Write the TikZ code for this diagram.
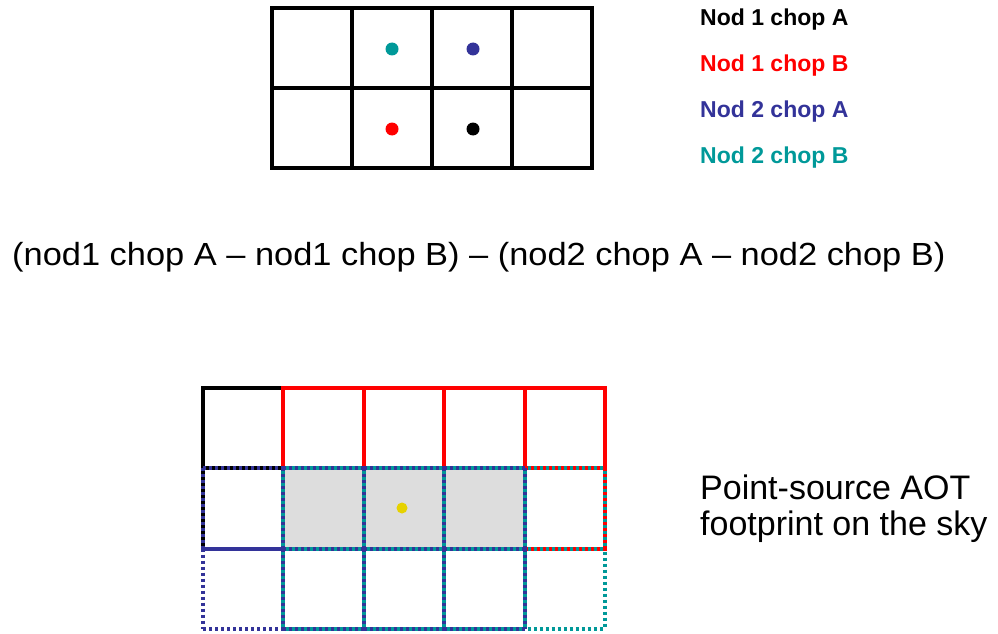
\documentclass[tikz,border=0pt]{standalone}
\usepackage{fontspec}
\setmainfont{Liberation Sans}
\definecolor{navy}{RGB}{51,51,153}
\definecolor{tealc}{RGB}{0,153,153}
\definecolor{greyf}{RGB}{221,221,221}
\definecolor{yell}{RGB}{230,210,0}
\newcommand\footprintgrid[3]{%
  \foreach \c in {0,...,3} \foreach \r in {0,...,2}
    \draw[#3] ({203+(\c+#1)*80.4},{388+(\r+#2)*80.3}) -- ++(80.4,0);
  \foreach \c in {0,...,4} \foreach \r in {0,1}
    \draw[#3] ({203+(\c+#1)*80.4},{388+(\r+#2)*80.3}) -- ++(0,80.3);
}
\begin{document}
\begin{tikzpicture}[x=1pt,y=-1pt,
  gridline/.style={draw=black,line width=4pt,line cap=rect},
  solidblack/.style={draw=black,line width=4pt,line cap=rect},
  solidred/.style={draw=red,line width=4pt,line cap=rect},
  solidnavy/.style={draw=navy,line width=4pt,line cap=rect},
  dotblue/.style={draw=navy,line width=4pt,dash pattern=on 3pt off 3pt},
  dotteal/.style={draw=tealc,line width=4pt,dash pattern=on 3pt off 3pt,dash phase=3pt},
  dot/.style={circle,inner sep=0pt,minimum size=13pt,draw=none},
  legend/.style={anchor=base west,inner sep=0pt,font=\fontsize{23}{27}\selectfont\bfseries},
  bigtext/.style={anchor=base west,inner sep=0pt,font=\fontsize{34}{40}\selectfont}]
\useasboundingbox (0,0) rectangle (998,634);
% top grid
\draw[gridline] (272,8) rectangle (592,168);
\foreach \x in {352,432,512} \draw[gridline] (\x,8) -- (\x,168);
\draw[gridline] (272,88) -- (592,88);
\node[dot,fill=tealc] (d1) at (392,49) {};
\node[dot,fill=navy] (d2) at (473,49) {};
\node[dot,fill=red] (d3) at (392,129) {};
\node[dot,fill=black] (d4) at (473,129) {};
% legend
\node[legend,text=black] (l1) at (700,26) {Nod 1 chop A};
\node[legend,text=red] (l2) at (700,71) {Nod 1 chop B};
\node[legend,text=navy] (l3) at (700,117) {Nod 2 chop A};
\node[legend,text=tealc] (l4) at (700,163) {Nod 2 chop B};
% formula
\node[anchor=base west,inner sep=0pt,font=\fontsize{32}{38}\selectfont] (f) at (12,265)
  {\scalebox{1.075}[1]{(nod1 chop A – nod1 chop B) – (nod2 chop A – nod2 chop B)}};
% bottom footprint
\fill[greyf] ({203+80.4},{388+80.3}) rectangle ({203+4*80.4},{388+2*80.3});
\footprintgrid{0}{0}{solidblack}
\footprintgrid{1}{0}{solidred}
\draw[solidnavy] (203,{388+2*80.3}) -- ++(80.4,0);
\footprintgrid{0}{1}{dotblue}
\footprintgrid{1}{1}{dotteal}
\node[dot,fill=yell,minimum size=11pt] (src) at (402,508) {};
\node[bigtext] (t1) at (700,499) {Point-source AOT};
\node[bigtext] (t2) at (700,535) {footprint on the sky};
\end{tikzpicture}
\end{document}
